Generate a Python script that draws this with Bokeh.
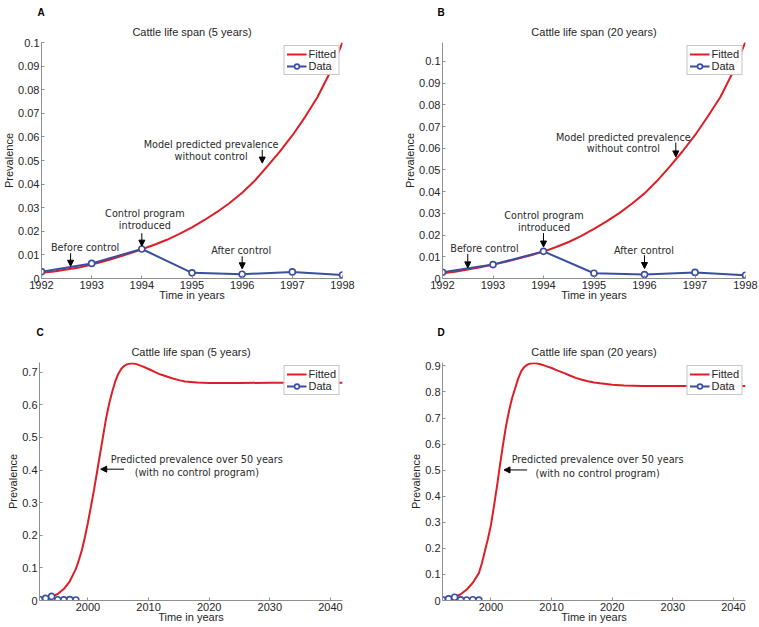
from bokeh.plotting import figure
from bokeh.layouts import column, row
from bokeh.models import (Range1d, FixedTicker, CustomJSTickFormatter, Title,
                          Arrow, NormalHead, ColumnDataSource)
from bokeh.core.properties import value
from bokeh.embed import file_html
from bokeh.resources import INLINE

# ---------------- data ----------------
data_years = [1992, 1993, 1994, 1995, 1996, 1997, 1998]
data_prev = [0.0029, 0.0064, 0.0125, 0.0024, 0.0018, 0.0028, 0.0015]

fitA_years = [1992, 1992.25, 1992.5, 1992.75, 1993, 1993.25, 1993.5, 1993.75, 1994,
              1994.25, 1994.5, 1994.75, 1995, 1995.25, 1995.5, 1995.75, 1996,
              1996.25, 1996.5, 1996.75, 1997, 1997.25, 1997.5, 1997.75, 1998]
fitA_prev = [0.0024, 0.0030, 0.0038, 0.0047, 0.0059, 0.0073, 0.0089, 0.0106, 0.0124,
             0.0143, 0.0164, 0.0189, 0.0217, 0.0248, 0.0282, 0.0320, 0.0363,
             0.0414, 0.0475, 0.0538, 0.0606, 0.0683, 0.0768, 0.0873, 0.1000]

fitB_years = fitA_years
fitB_prev = [0.0024, 0.0031, 0.0041, 0.0052, 0.0064, 0.0077, 0.0092, 0.0107, 0.0124,
             0.0145, 0.0168, 0.0196, 0.0229, 0.0263, 0.0301, 0.0344, 0.0392,
             0.0450, 0.0515, 0.0585, 0.0660, 0.0745, 0.0835, 0.0950, 0.1090]

fitC_years = [1992, 1993, 1994, 1995, 1996, 1997, 1998, 1998.5, 1999, 1999.5, 2000,
              2000.5, 2001, 2001.5, 2002, 2002.5, 2003, 2003.5, 2004, 2004.5, 2005,
              2005.5, 2006, 2006.5, 2007, 2007.5, 2008, 2009, 2010, 2011, 2012, 2013,
              2014, 2015, 2016, 2018, 2020, 2025, 2030, 2035, 2042]
fitC_prev = [0.0024, 0.0059, 0.012, 0.020, 0.035, 0.059, 0.097, 0.124, 0.155, 0.195,
             0.240, 0.289, 0.340, 0.395, 0.450, 0.505, 0.560, 0.604, 0.640, 0.672,
             0.695, 0.711, 0.720, 0.725, 0.727, 0.727, 0.725, 0.718, 0.710, 0.701,
             0.693, 0.687, 0.681, 0.676, 0.672, 0.669, 0.667, 0.667, 0.668, 0.668,
             0.668]

fitD_years = [1992, 1993, 1994, 1995, 1996, 1997, 1998, 1998.5, 1999, 1999.5, 2000,
              2000.5, 2001, 2001.5, 2002, 2002.5, 2003, 2003.5, 2004, 2004.5, 2005,
              2005.5, 2006, 2006.5, 2007, 2007.5, 2008, 2009, 2010, 2011, 2012, 2013,
              2014, 2015, 2016, 2017, 2018, 2020, 2022, 2025, 2030, 2042]
fitD_prev = [0.0024, 0.0060, 0.013, 0.024, 0.042, 0.068, 0.105, 0.143, 0.190, 0.237,
             0.290, 0.363, 0.440, 0.522, 0.600, 0.672, 0.730, 0.778, 0.815, 0.852,
             0.880, 0.896, 0.905, 0.909, 0.910, 0.910, 0.907, 0.900, 0.892, 0.882,
             0.873, 0.863, 0.854, 0.847, 0.841, 0.836, 0.833, 0.828, 0.825, 0.823,
             0.823, 0.823]

ticks_short_x = [1992, 1993, 1994, 1995, 1996, 1997, 1998]
ticks_long_x = [2000, 2010, 2020, 2030, 2040]
ticks_A_y = [0, 0.01, 0.02, 0.03, 0.04, 0.05, 0.06, 0.07, 0.08, 0.09, 0.1]
ticks_C_y = [0, 0.1, 0.2, 0.3, 0.4, 0.5, 0.6, 0.7]
ticks_D_y = [0, 0.1, 0.2, 0.3, 0.4, 0.5, 0.6, 0.7, 0.8, 0.9]

# annotation texts (data coordinates)
textA = ["Model predicted prevalence", "without control", "Control program",
         "introduced", "Before control", "After control"]
textA_x = [1995.38, 1995.38, 1994.06, 1994.06, 1992.87, 1995.98]
textA_y = [0.0566, 0.0518, 0.0277, 0.0226, 0.0131, 0.0119]
arrA_x = [1996.40, 1994.0, 1992.58, 1996.0]
arrA_y0 = [0.0545, 0.0192, 0.0107, 0.0094]
arrA_y1 = [0.0489, 0.0137, 0.0052, 0.0041]

textB = textA
textB_x = [1995.58, 1995.58, 1994.01, 1994.01, 1992.83, 1995.99]
textB_y = [0.0650, 0.0598, 0.0292, 0.0235, 0.0137, 0.0131]
arrB_x = [1996.62, 1994.0, 1992.5, 1996.0]
arrB_y0 = [0.0626, 0.0209, 0.0113, 0.0107]
arrB_y1 = [0.0560, 0.0145, 0.0049, 0.0046]

textC = ["Predicted prevalence over 50 years", "(with no control program)"]
textC_x = [2017.96, 2017.96]
textC_y = [0.4325, 0.3926]
arrC = (2005.96, 2002.1, 0.4028)

textD = textC
textD_x = [2017.6, 2017.6]
textD_y = [0.539, 0.4877]
arrD = (2005.96, 2002.15, 0.5008)

RED = "#dc1f26"
BLUE = "#3a4fa0"
AX = "#8f8f8f"
TXT = "#262626"
SANS = "Liberation Sans"
ANN = "DejaVu Sans"


def panel(letter, title, xr, yr, xt, yt, fx, fy, tx, ty, tt, arrows,
          w, h, bl, br, bt, bb, loff):
    p = figure(width=w, height=h, output_backend="svg", toolbar_location=None,
               x_range=Range1d(*xr), y_range=Range1d(*yr),
               min_border_left=bl, min_border_right=br,
               min_border_top=bt, min_border_bottom=bb)
    p.outline_line_color = None
    p.grid.visible = False
    main_title = Title(text=title, align="center", text_font=SANS,
                       text_font_size="11px", text_font_style="normal",
                       text_color=TXT, standoff=9)
    letter_title = Title(text=letter, align="left", text_font=SANS,
                         text_font_size="10px", text_font_style="bold",
                         text_color="black", offset=loff, standoff=4)
    p.title = None
    p.above = [main_title, letter_title]

    for ax in (p.xaxis[0], p.yaxis[0]):
        ax.axis_line_color = AX
        ax.major_tick_line_color = AX
        ax.major_tick_in = 3
        ax.major_tick_out = 0
        ax.minor_tick_line_color = None
        ax.major_label_text_font = SANS
        ax.major_label_text_font_size = "11px"
        ax.major_label_text_color = TXT
        ax.axis_label_text_font = SANS
        ax.axis_label_text_font_size = "11px"
        ax.axis_label_text_font_style = "normal"
        ax.axis_label_text_color = TXT
        ax.major_label_standoff = 2
    p.xaxis.ticker = FixedTicker(ticks=xt)
    p.yaxis.ticker = FixedTicker(ticks=yt)
    p.yaxis.formatter = CustomJSTickFormatter(
        code="return String(Math.round(tick*10000)/10000)")
    p.xaxis.axis_label = "Time in years"
    p.yaxis.axis_label = "Prevalence"
    p.xaxis.axis_label_standoff = -3
    p.yaxis.axis_label_standoff = 0

    p.line(fx, fy, line_color=RED, line_width=2, legend_label="Fitted")
    p.line(data_years, data_prev, line_color=BLUE, line_width=2, legend_label="Data")
    p.scatter(data_years, data_prev, marker="circle", size=6, line_color=BLUE,
              line_width=1.6, fill_color="white", legend_label="Data")

    src = ColumnDataSource(dict(x=tx, y=ty, t=tt))
    p.text(x="x", y="y", text="t", source=src, text_font=value(ANN),
           text_font_size="9.7px", text_color="#2a2a2a", text_align="center",
           text_baseline="middle")
    for (x0, y0, x1, y1) in arrows:
        p.add_layout(Arrow(end=NormalHead(size=6, fill_color="black",
                                          line_color="black"),
                           x_start=x0, y_start=y0, x_end=x1, y_end=y1,
                           line_color="black", line_width=1))

    lg = p.legend[0]
    lg.location = "top_right"
    lg.margin = 3
    lg.padding = 2
    lg.spacing = 0
    lg.glyph_width = 20
    lg.glyph_height = 12
    lg.label_height = 12
    lg.label_standoff = 2
    lg.label_text_font = SANS
    lg.label_text_font_size = "11px"
    lg.label_text_color = TXT
    lg.border_line_color = "#8c8c8c"
    lg.border_line_width = 1
    return p


arA = [(x, a, x, b) for x, a, b in zip(arrA_x, arrA_y0, arrA_y1)]
arB = [(x, a, x, b) for x, a, b in zip(arrB_x, arrB_y0, arrB_y1)]

pA = panel("A", "Cattle life span (5 years)", (1992, 1998), (0, 0.1),
           ticks_short_x, ticks_A_y, fitA_years, fitA_prev,
           textA_x, textA_y, textA, arA, 380, 320, 39, 38, 42, 42, -4)
pB = panel("B", "Cattle life span (20 years)", (1992, 1998), (0, 0.1087),
           ticks_short_x, ticks_A_y, fitB_years, fitB_prev,
           textB_x, textB_y, textB, arB, 379, 320, 62, 14, 42, 42, -5)
pC = panel("C", "Cattle life span (5 years)", (1992, 2042), (0, 0.73),
           ticks_long_x, ticks_C_y, fitC_years, fitC_prev,
           textC_x, textC_y, textC, [(arrC[0], arrC[2], arrC[1], arrC[2])],
           380, 307, 39, 38, 42, 27, -3)
pD = panel("D", "Cattle life span (20 years)", (1992, 2042), (0, 0.913),
           ticks_long_x, ticks_D_y, fitD_years, fitD_prev,
           textD_x, textD_y, textD, [(arrD[0], arrD[2], arrD[1], arrD[2])],
           379, 307, 62, 14, 42, 27, -5)

layout = column(row(pA, pB, spacing=0), row(pC, pD, spacing=0), spacing=0)
open("out.html", "w").write(file_html(layout, INLINE))
